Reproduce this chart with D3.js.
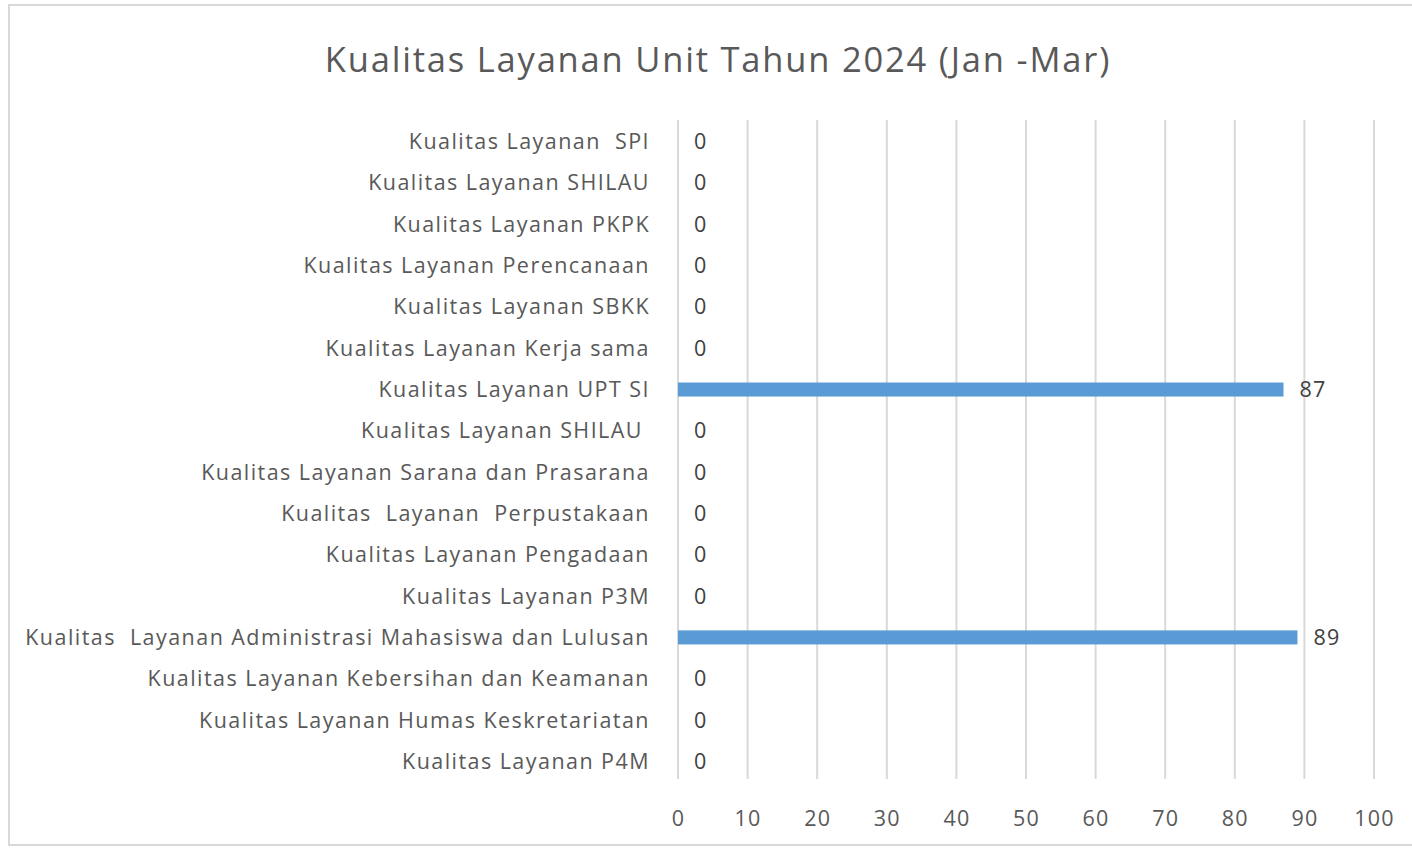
<!DOCTYPE html>
<html>
<head>
<meta charset="utf-8">
<script src="https://cdn.jsdelivr.net/npm/d3@7"></script>
<style>
  body { margin: 0; background: #fff; }
  text { font-family: "Open Sans", sans-serif; white-space: pre; }
</style>
</head>
<body>
<svg id="chart" width="1412" height="848"></svg>
<script>
// data (top to bottom)
var categories = [
  "Kualitas Layanan  SPI",
  "Kualitas Layanan SHILAU",
  "Kualitas Layanan PKPK",
  "Kualitas Layanan Perencanaan",
  "Kualitas Layanan SBKK",
  "Kualitas Layanan Kerja sama",
  "Kualitas Layanan UPT SI",
  "Kualitas Layanan SHILAU ",
  "Kualitas Layanan Sarana dan Prasarana",
  "Kualitas  Layanan  Perpustakaan",
  "Kualitas Layanan Pengadaan",
  "Kualitas Layanan P3M",
  "Kualitas  Layanan Administrasi Mahasiswa dan Lulusan",
  "Kualitas Layanan Kebersihan dan Keamanan",
  "Kualitas Layanan Humas Keskretariatan",
  "Kualitas Layanan P4M"
]
var values = [0, 0, 0, 0, 0, 0, 87, 0, 0, 0, 0, 0, 89, 0, 0, 0]
var ticks = [0, 10, 20, 30, 40, 50, 60, 70, 80, 90, 100]
var title = "Kualitas Layanan Unit Tahun 2024 (Jan -Mar)"

var svg = d3.select("#chart")

// outer frame
svg.append("rect")
  .attr("x", 9).attr("y", 5)
  .attr("width", 1420).attr("height", 840)
  .attr("fill", "none")
  .attr("stroke", "#d9d9d9")
  .attr("stroke-width", 2)

svg.append("text")
  .attr("x", 718).attr("y", 72)
  .attr("text-anchor", "middle")
  .style("font-size", "34.5px")
  .style("letter-spacing", "1.8px")
  .style("fill", "#595959")
  .text(title)

var x = d3.scaleLinear()
  .domain([0, 100])
  .range([678, 1374])

var y = d3.scaleBand()
  .domain(d3.range(categories.length))
  .range([121, 782])
  .paddingInner(0.66)
  .paddingOuter(0.33)

// gridlines
svg.append("g")
  .selectAll("line")
  .data(ticks)
  .enter()
  .append("line")
  .attr("x1", function (d) { return x(d) })
  .attr("x2", function (d) { return x(d) })
  .attr("y1", 120)
  .attr("y2", 779)
  .attr("stroke", "#d9d9d9")
  .attr("stroke-width", 2)

// x axis labels
svg.append("g")
  .attr("transform", "translate(0,818)")
  .call(d3.axisBottom(x).tickValues(ticks).tickSize(0).tickPadding(0))
  .call(function (g) { g.select(".domain").remove() })
  .selectAll("text")
  .attr("dy", "0.35em")
  .style("font-family", "Open Sans, sans-serif")
  .style("font-size", "21.5px")
  .style("letter-spacing", "1.2px")
  .style("fill", "#595959")

// category labels
svg.append("g")
  .selectAll("text")
  .data(categories)
  .enter()
  .append("text")
  .attr("x", 650)
  .attr("y", function (d, i) { return y(i) + y.bandwidth() / 2 })
  .attr("dy", "0.35em")
  .attr("text-anchor", "end")
  .style("font-size", "21.5px")
  .style("letter-spacing", "1.45px")
  .style("fill", "#595959")
  .text(function (d) { return d })

// bars
svg.append("g")
  .selectAll("rect")
  .data(values)
  .enter()
  .append("rect")
  .attr("x", x(0))
  .attr("y", function (d, i) { return y(i) })
  .attr("width", function (d) { return x(d) - x(0) })
  .attr("height", y.bandwidth())
  .attr("fill", "#5b9bd5")

// value labels
svg.append("g")
  .selectAll("text")
  .data(values)
  .enter()
  .append("text")
  .attr("x", function (d) { return x(d) + 16 })
  .attr("y", function (d, i) { return y(i) + y.bandwidth() / 2 })
  .attr("dy", "0.35em")
  .style("font-size", "21.5px")
  .style("letter-spacing", "1.2px")
  .style("fill", "#404040")
  .text(function (d) { return d })
</script>
</body>
</html>
